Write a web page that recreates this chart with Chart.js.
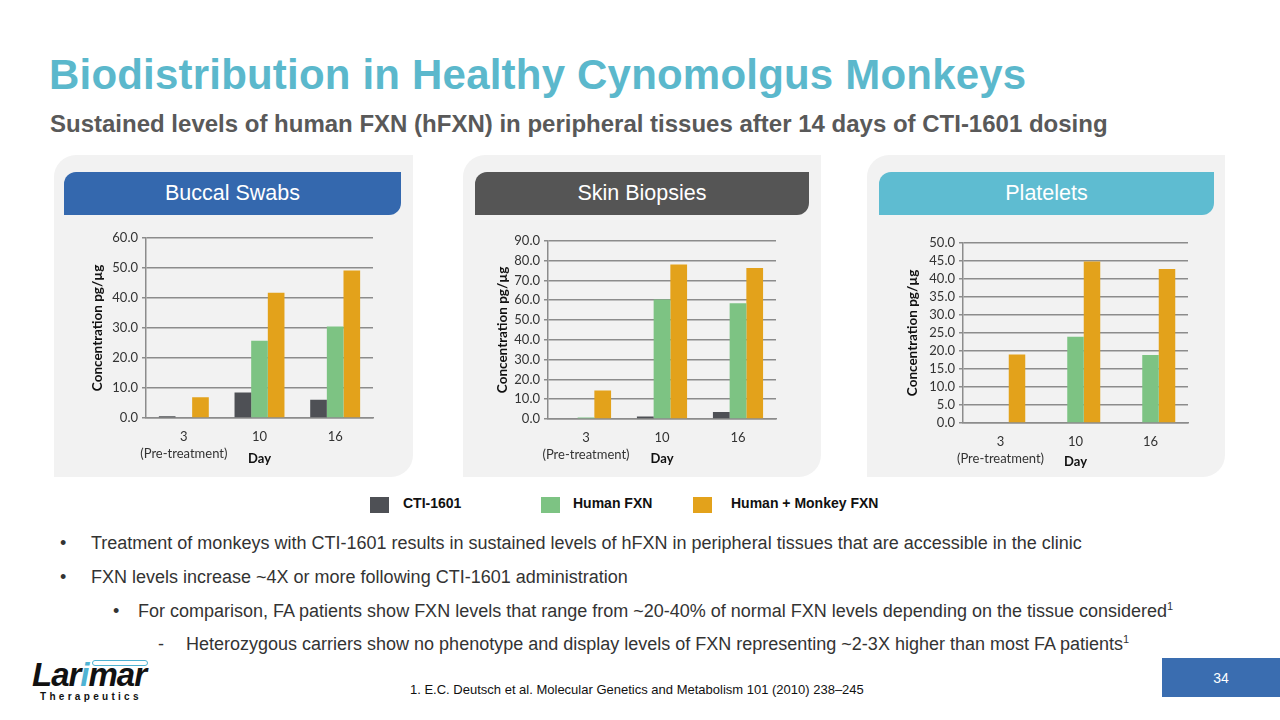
<!DOCTYPE html>
<html>
<head>
<meta charset="utf-8">
<script src="https://cdn.jsdelivr.net/npm/chart.js@4/dist/chart.umd.min.js"></script>
<style>
  html, body { margin:0; padding:0; }
  body { width:1280px; height:720px; position:relative; background:#fff; overflow:hidden; font-family:"Liberation Sans", Arial, sans-serif; }
  .abs { position:absolute; }
  #title { left:49px; top:51px; font-size:42px; font-weight:bold; color:#5bb8cc; white-space:nowrap; letter-spacing:0.2px; }
  #subtitle { left:50px; top:110px; font-size:24px; font-weight:bold; color:#595959; white-space:nowrap; }
  .panel { background:#f2f2f2; border-radius:22px 0 22px 0; }
  .hdr { border-radius:12px 0 12px 0; color:#fff; font-size:21.5px; display:flex; align-items:center; justify-content:center; }
  .cw { position:absolute; }
  .leg-sq { position:absolute; width:19px; height:16px; }
  .leg-tx { position:absolute; font-size:14px; font-weight:bold; color:#111; white-space:nowrap; }
  .bl { position:absolute; font-size:18px; color:#333; white-space:nowrap; }
  sup { font-size:11px; vertical-align:7px; line-height:0; }
</style>
</head>
<body>
<div id="title" class="abs">Biodistribution in Healthy Cynomolgus Monkeys</div>
<div id="subtitle" class="abs">Sustained levels of human FXN (hFXN) in peripheral tissues after 14 days of CTI-1601 dosing</div>

<div class="abs panel" style="left:54px;top:155px;width:359px;height:322px;"></div>
<div class="abs panel" style="left:463px;top:155px;width:358px;height:322px;"></div>
<div class="abs panel" style="left:867px;top:155px;width:358px;height:322px;"></div>

<div class="abs hdr" style="left:64px;top:172px;width:337px;height:43px;background:#3468ae;">Buccal Swabs</div>
<div class="abs hdr" style="left:475px;top:172px;width:334px;height:43px;background:#555555;">Skin Biopsies</div>
<div class="abs hdr" style="left:879px;top:172px;width:335px;height:43px;background:#5ebcd1;">Platelets</div>

<div class="cw" style="left:88px;top:226px;width:295px;height:244px;"><canvas id="c1"></canvas></div>
<div class="cw" style="left:493px;top:229px;width:293px;height:241px;"><canvas id="c2"></canvas></div>
<div class="cw" style="left:903px;top:231px;width:295px;height:242px;"><canvas id="c3"></canvas></div>

<div id="legend"></div>

<div class="bl" style="left:60px;top:533px;">•</div>
<div class="bl" style="left:91px;top:533px;">Treatment of monkeys with CTI-1601 results in sustained levels of hFXN in peripheral tissues that are accessible in the clinic</div>
<div class="bl" style="left:60px;top:567px;">•</div>
<div class="bl" style="left:91px;top:567px;">FXN levels increase ~4X or more following CTI-1601 administration</div>
<div class="bl" style="left:113px;top:601px;">•</div>
<div class="bl" style="left:138px;top:601px;">For comparison, FA patients show FXN levels that range from ~20-40% of normal FXN levels depending on the tissue considered<sup>1</sup></div>
<div class="bl" style="left:158px;top:634px;">-</div>
<div class="bl" style="left:186px;top:634px;">Heterozygous carriers show no phenotype and display levels of FXN representing ~2-3X higher than most FA patients<sup>1</sup></div>

<div class="abs" style="left:410px;top:682px;font-size:13px;color:#111;white-space:nowrap;">1. E.C. Deutsch et al. Molecular Genetics and Metabolism 101 (2010) 238–245</div>

<div class="abs" style="left:32px;top:656px;font-size:33px;font-style:italic;font-weight:bold;color:#111;letter-spacing:-1px;white-space:nowrap;">Lar<span style="color:#4fb3d3;">i</span>mar</div>
<div class="abs" style="left:92px;top:660px;width:54px;height:4px;border:1.5px solid #4fb3d3;border-radius:3px;"></div>
<div class="abs" style="left:40px;top:691px;font-size:10px;font-weight:bold;color:#111;letter-spacing:3.3px;white-space:nowrap;">Therapeutics</div>

<div class="abs" style="left:1162px;top:658px;width:118px;height:39px;background:#3a6db0;color:#fff;font-size:14px;display:flex;align-items:center;justify-content:center;">34</div>

<script>
// ---- data ----
const days = [["3", "(Pre-treatment)"], "10", "16"];
const seriesNames = ["CTI-1601", "Human FXN", "Human + Monkey FXN"];
const seriesColors = ["#4e5055", "#7dc383", "#e3a21b"];

const buccalCTI   = [0.6, 8.5, 6.1];
const buccalHuman = [0, 25.7, 30.5];
const buccalTotal = [6.9, 41.7, 49.1];

const skinCTI   = [0, 1.3, 3.5];
const skinHuman = [0.8, 60.4, 58.4];
const skinTotal = [14.4, 78.0, 76.3];

const plateletCTI   = [0, 0, 0];
const plateletHuman = [0, 23.9, 18.9];
const plateletTotal = [19.0, 44.8, 42.7];

const buccalAxis   = { max: 60, step: 10 };
const skinAxis     = { max: 90, step: 10 };
const plateletAxis = { max: 50, step: 5 };

const yTitle = "Concentration pg/µg";
const xTitle = "Day";

// ---- legend ----
const legendPos = [{sq:370, tx:403}, {sq:541, tx:573}, {sq:693, tx:731}];
const legend = document.getElementById('legend');
seriesNames.forEach((n, i) => {
  const s = document.createElement('div');
  s.className = 'leg-sq';
  s.style.left = legendPos[i].sq + 'px';
  s.style.top = '497px';
  s.style.background = seriesColors[i];
  legend.appendChild(s);
  const t = document.createElement('div');
  t.className = 'leg-tx';
  t.style.left = legendPos[i].tx + 'px';
  t.style.top = '495px';
  t.textContent = n;
  legend.appendChild(t);
});

// ---- charts ----
const FONT = "Lato, 'Open Sans', sans-serif";
const GRID = "#8c8c8c";

function makeChart(id, series, axis, yWidth, xHeight) {
  new Chart(document.getElementById(id), {
    type: 'bar',
    data: {
      labels: days,
      datasets: series.map((d, i) => ({
        label: seriesNames[i],
        data: d,
        backgroundColor: seriesColors[i],
        borderWidth: 0,
        categoryPercentage: 0.66,
        barPercentage: 1.0
      }))
    },
    options: {
      responsive: true,
      maintainAspectRatio: false,
      animation: false,
      layout: { padding: { top: 10, right: 10, left: 0, bottom: 0 } },
      plugins: { legend: { display: false }, tooltip: { enabled: false } },
      scales: {
        x: {
          grid: { display: false, drawTicks: false },
          border: { display: true, color: GRID, width: 1.5 },
          ticks: { color: '#333', padding: 10, font: { family: FONT, size: 13, lineHeight: 1.3 }, maxRotation: 0, autoSkip: false },
          title: { display: true, text: xTitle, color: '#111', font: { family: FONT, size: 13, weight: 'bold' }, padding: { top: 0, bottom: 3.5 } },
          afterFit: (s) => { s.height = xHeight; }
        },
        y: {
          min: 0, max: axis.max,
          grid: { color: GRID, lineWidth: 1.5, tickLength: 4, tickColor: GRID },
          border: { display: true, color: GRID, width: 1.5 },
          ticks: { stepSize: axis.step, autoSkip: false, color: '#333', padding: 4, font: { family: FONT, size: 13 }, callback: (v) => Number(v).toFixed(1) },
          title: { display: true, text: yTitle, color: '#111', font: { family: FONT, size: 13.5, weight: 'bold' }, padding: { top: 2, bottom: 0 } },
          afterFit: (s) => { s.width = yWidth; }
        }
      }
    }
  });
}

makeChart('c1', [buccalCTI, buccalHuman, buccalTotal], buccalAxis, 58, 52);
makeChart('c2', [skinCTI, skinHuman, skinTotal], skinAxis, 55, 51);
makeChart('c3', [plateletCTI, plateletHuman, plateletTotal], plateletAxis, 60, 50);
</script>
</body>
</html>
